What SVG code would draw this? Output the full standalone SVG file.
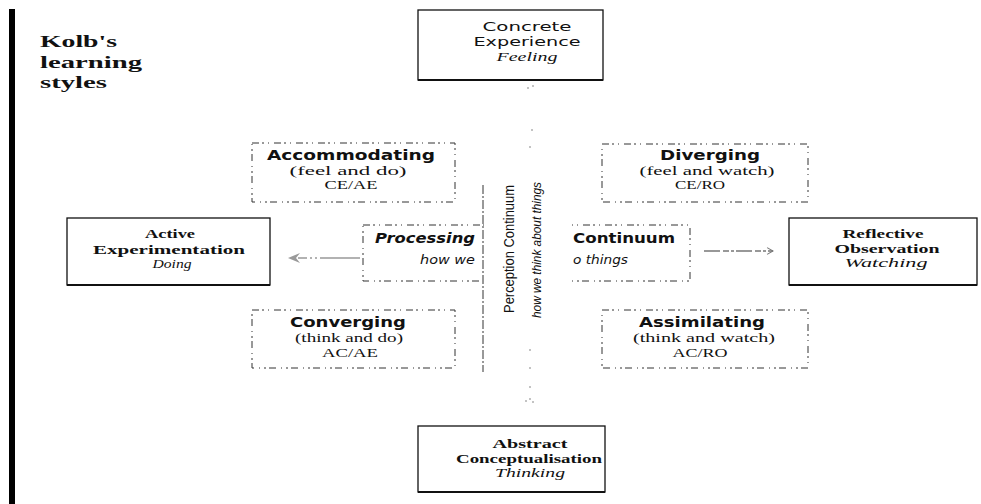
<svg xmlns="http://www.w3.org/2000/svg" width="981" height="504" viewBox="0 0 981 504">
  <style>
    .mode { fill: #fff; stroke: #111; stroke-width: 1.3; }
    .style-box { fill: #fff; stroke: #333; stroke-width: 1; stroke-dasharray: 7 3 2 4 1 5; }
    .serif { font-family: "Liberation Serif", "DejaVu Serif", serif; fill: #111; }
    .sans { font-family: "DejaVu Sans", "Liberation Sans", sans-serif; fill: #111; }
    .title { font-family: "Liberation Serif", serif; font-weight: bold; font-size: 17px; fill: #111; }
    .modetxt { font-size: 13px; }
    .styletitle { font-family: "DejaVu Sans", sans-serif; font-weight: bold; font-size: 14px; fill: #111; }
    .sub { font-size: 13px; }
    .ital { font-style: italic; }
    .dot { fill: #777; }
  </style>
  <defs>
    <marker id="grayHead" viewBox="0 0 12 10" refX="2" refY="5" markerWidth="18" markerHeight="10" markerUnits="userSpaceOnUse" orient="auto">
      <path d="M12,5 L0,0 L4,5 L0,10 Z" fill="#9a9a9a"/>
    </marker>
    <marker id="openHead" viewBox="0 0 10 10" refX="9" refY="5" markerWidth="7" markerHeight="7" orient="auto">
      <path d="M2,1 L9,5 L2,9" fill="none" stroke="#777" stroke-width="1.2"/>
    </marker>
  </defs>

  <rect width="981" height="504" fill="#fff"/>

  <!-- left margin bar -->
  <rect x="9" y="9" width="6" height="495" fill="#000"/>

  <!-- heading -->
  <g id="heading">
    <text class="title" x="40" y="47" textLength="77" lengthAdjust="spacingAndGlyphs">Kolb's</text>
    <text class="title" x="40" y="68" textLength="102" lengthAdjust="spacingAndGlyphs">learning</text>
    <text class="title" x="40" y="88" textLength="67" lengthAdjust="spacingAndGlyphs">styles</text>
  </g>

  <!-- processing continuum band (behind the perception band) -->
  <g id="processing">
    <rect class="style-box" x="363" y="225" width="327" height="56" stroke-dasharray="2 6 1 7"/>
    <text class="styletitle" x="375" y="243" font-style="italic" textLength="100" lengthAdjust="spacingAndGlyphs">Processing</text>
    <text class="styletitle" x="573" y="243" textLength="102" lengthAdjust="spacingAndGlyphs">Continuum</text>
    <text class="sans sub ital" x="420" y="264" textLength="55" lengthAdjust="spacingAndGlyphs">how we</text>
    <text class="sans sub ital" x="573" y="264" textLength="55" lengthAdjust="spacingAndGlyphs">o things</text>
  </g>

  <!-- perception continuum band -->
  <g id="perception">
    <rect x="484" y="185" width="88" height="187" fill="#fff"/>
    <line x1="483" y1="185" x2="483" y2="372" stroke="#333" stroke-width="1" stroke-dasharray="9 2 2 2"/>
    <text font-family="Liberation Sans, Arial, sans-serif" font-size="14" fill="#111" transform="translate(514,249) rotate(-90)" text-anchor="middle" textLength="128" lengthAdjust="spacingAndGlyphs">Perception Continuum</text>
    <text font-family="Liberation Sans, Arial, sans-serif" font-size="12" font-style="italic" fill="#111" transform="translate(541,250) rotate(-90)" text-anchor="middle" textLength="136" lengthAdjust="spacingAndGlyphs">how we think about things</text>
  </g>

  <!-- four learning modes -->
  <g id="concrete-experience">
    <rect class="mode" x="418" y="10" width="185" height="70"/>
    <line x1="418" y1="80" x2="603" y2="80" stroke="#111" stroke-width="2"/>
    <text class="sans modetxt" x="527" y="31" text-anchor="middle" textLength="89" lengthAdjust="spacingAndGlyphs">Concrete</text>
    <text class="sans modetxt" x="527" y="46" text-anchor="middle" textLength="107" lengthAdjust="spacingAndGlyphs">Experience</text>
    <text class="serif ital" font-size="13" x="527" y="61" text-anchor="middle" textLength="61" lengthAdjust="spacingAndGlyphs">Feeling</text>
  </g>

  <g id="active-experimentation">
    <rect class="mode" x="67" y="218" width="203" height="67"/>
    <line x1="67" y1="285" x2="270" y2="285" stroke="#111" stroke-width="2"/>
    <text class="serif modetxt" font-weight="bold" x="170" y="238" text-anchor="middle" textLength="50" lengthAdjust="spacingAndGlyphs">Active</text>
    <text class="serif modetxt" font-weight="bold" x="169" y="254" text-anchor="middle" textLength="152" lengthAdjust="spacingAndGlyphs">Experimentation</text>
    <text class="serif ital" font-size="13" x="172" y="268" text-anchor="middle" textLength="39" lengthAdjust="spacingAndGlyphs">Doing</text>
  </g>

  <g id="reflective-observation">
    <rect class="mode" x="789" y="218" width="188" height="67"/>
    <line x1="789" y1="285" x2="977" y2="285" stroke="#111" stroke-width="2"/>
    <text class="serif modetxt" font-weight="bold" x="883" y="238" text-anchor="middle" textLength="81" lengthAdjust="spacingAndGlyphs">Reflective</text>
    <text class="serif modetxt" font-weight="bold" x="887" y="253" text-anchor="middle" textLength="105" lengthAdjust="spacingAndGlyphs">Observation</text>
    <text class="serif ital" font-size="13" x="886" y="267" text-anchor="middle" textLength="83" lengthAdjust="spacingAndGlyphs">Watching</text>
  </g>

  <g id="abstract-conceptualisation">
    <rect class="mode" x="418" y="426" width="187" height="66"/>
    <line x1="418" y1="492" x2="605" y2="492" stroke="#111" stroke-width="2"/>
    <text class="serif modetxt" font-weight="bold" x="530" y="448" text-anchor="middle" textLength="75" lengthAdjust="spacingAndGlyphs">Abstract</text>
    <text class="serif modetxt" font-weight="bold" x="529" y="463" text-anchor="middle" textLength="146" lengthAdjust="spacingAndGlyphs">Conceptualisation</text>
    <text class="serif ital" font-size="13" x="530" y="477" text-anchor="middle" textLength="70" lengthAdjust="spacingAndGlyphs">Thinking</text>
  </g>

  <!-- four learning styles -->
  <g id="accommodating">
    <rect class="style-box" x="252" y="143" width="203" height="59"/>
    <text class="styletitle" x="351" y="160" text-anchor="middle" textLength="168" lengthAdjust="spacingAndGlyphs">Accommodating</text>
    <text class="serif sub" x="348" y="175" text-anchor="middle" textLength="117" lengthAdjust="spacingAndGlyphs">(feel and do)</text>
    <text class="serif sub" x="351" y="189" text-anchor="middle" textLength="53" lengthAdjust="spacingAndGlyphs">CE/AE</text>
  </g>

  <g id="diverging">
    <rect class="style-box" x="602" y="144" width="206" height="58"/>
    <text class="styletitle" x="710" y="160" text-anchor="middle" textLength="100" lengthAdjust="spacingAndGlyphs">Diverging</text>
    <text class="serif sub" x="707" y="175" text-anchor="middle" textLength="135" lengthAdjust="spacingAndGlyphs">(feel and watch)</text>
    <text class="serif sub" x="700" y="189" text-anchor="middle" textLength="50" lengthAdjust="spacingAndGlyphs">CE/RO</text>
  </g>

  <g id="converging">
    <rect class="style-box" x="252" y="310" width="203" height="58"/>
    <text class="styletitle" x="348" y="327" text-anchor="middle" textLength="116" lengthAdjust="spacingAndGlyphs">Converging</text>
    <text class="serif sub" x="349" y="342" text-anchor="middle" textLength="108" lengthAdjust="spacingAndGlyphs">(think and do)</text>
    <text class="serif sub" x="350" y="357" text-anchor="middle" textLength="56" lengthAdjust="spacingAndGlyphs">AC/AE</text>
  </g>

  <g id="assimilating">
    <rect class="style-box" x="602" y="310" width="206" height="58"/>
    <text class="styletitle" x="702" y="327" text-anchor="middle" textLength="126" lengthAdjust="spacingAndGlyphs">Assimilating</text>
    <text class="serif sub" x="704" y="342" text-anchor="middle" textLength="142" lengthAdjust="spacingAndGlyphs">(think and watch)</text>
    <text class="serif sub" x="700" y="357" text-anchor="middle" textLength="55" lengthAdjust="spacingAndGlyphs">AC/RO</text>
  </g>

  <!-- connectors -->
  <g id="connectors">
    <line x1="360" y1="258" x2="298" y2="258" stroke="#999" stroke-width="1.4" stroke-dasharray="40 3 2 3 2 3" marker-end="url(#grayHead)"/>
    <line x1="704" y1="251" x2="773" y2="251" stroke="#333" stroke-width="1.2" stroke-dasharray="16 3 6 2 3 2" marker-end="url(#openHead)"/>
    <!-- faint dotted axis -->
    <circle class="dot" cx="528" cy="88" r="0.8"/>
    <circle class="dot" cx="533" cy="86" r="0.8"/>
    <circle class="dot" cx="532" cy="130" r="0.8"/>
    <circle class="dot" cx="530" cy="147" r="0.8"/>
    <circle class="dot" cx="530" cy="350" r="0.8"/>
    <circle class="dot" cx="530" cy="368" r="0.8"/>
    <circle class="dot" cx="530" cy="387" r="0.8"/>
    <circle class="dot" cx="526" cy="401" r="0.8"/>
    <circle class="dot" cx="530" cy="399" r="0.8"/>
    <circle class="dot" cx="533" cy="402" r="0.8"/>
  </g>
</svg>
